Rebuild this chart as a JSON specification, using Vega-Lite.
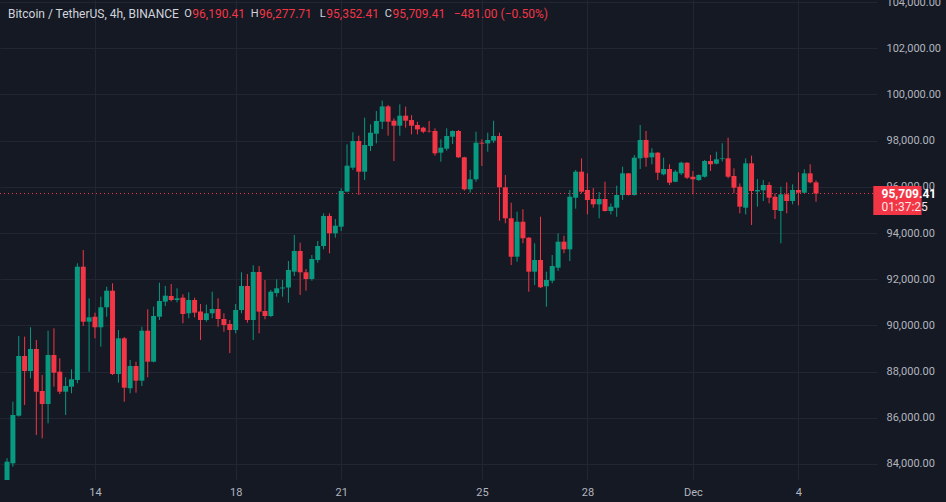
{
"$schema":"https://vega.github.io/schema/vega-lite/v6.json",
"width":877,"height":480,
"autosize":{"type":"none"},
"padding":{"left":0,"top":0,"right":69,"bottom":22},
"background":"#151924",
"config":{"view":{"stroke":null},"font":"Roboto","axis":{"zindex":0,"labelFont":"Roboto","labelFontSize":11,"labelColor":"#b2b5be","gridColor":"#222632","gridWidth":1,"domain":false,"ticks":false,"title":null,"labelFlush":false}},
"data":{"values":[
{"t":"2024-11-11T12:00Z","o":83200,"h":84250,"l":83100,"c":84100},
{"t":"2024-11-11T16:00Z","o":84030,"h":86697,"l":83883,"c":86121},
{"t":"2024-11-11T20:00Z","o":86091,"h":89541,"l":86050,"c":88675},
{"t":"2024-11-12T00:00Z","o":88675,"h":89512,"l":86554,"c":88026},
{"t":"2024-11-12T04:00Z","o":88026,"h":89918,"l":87710,"c":88978},
{"t":"2024-11-12T08:00Z","o":88978,"h":89368,"l":85255,"c":87130},
{"t":"2024-11-12T12:00Z","o":87160,"h":87853,"l":85112,"c":86597},
{"t":"2024-11-12T16:00Z","o":86597,"h":89770,"l":85762,"c":88719},
{"t":"2024-11-12T20:00Z","o":88719,"h":89874,"l":87346,"c":87952},
{"t":"2024-11-13T00:00Z","o":87996,"h":88576,"l":87030,"c":87130},
{"t":"2024-11-13T04:00Z","o":87130,"h":87753,"l":86121,"c":87377},
{"t":"2024-11-13T08:00Z","o":87346,"h":88100,"l":87061,"c":87667},
{"t":"2024-11-13T12:00Z","o":87636,"h":92688,"l":87494,"c":92541},
{"t":"2024-11-13T16:00Z","o":92541,"h":93264,"l":89974,"c":90160},
{"t":"2024-11-13T20:00Z","o":90160,"h":91173,"l":87996,"c":90350},
{"t":"2024-11-14T00:00Z","o":90376,"h":90552,"l":89442,"c":89918},
{"t":"2024-11-14T04:00Z","o":89918,"h":91242,"l":89078,"c":90784},
{"t":"2024-11-14T08:00Z","o":90784,"h":91675,"l":90376,"c":91502},
{"t":"2024-11-14T12:00Z","o":91502,"h":91822,"l":87850,"c":87896},
{"t":"2024-11-14T16:00Z","o":87896,"h":89801,"l":87519,"c":89441},
{"t":"2024-11-14T20:00Z","o":89441,"h":89500,"l":86697,"c":87303},
{"t":"2024-11-15T00:00Z","o":87277,"h":88502,"l":87061,"c":88242},
{"t":"2024-11-15T04:00Z","o":88242,"h":88430,"l":87087,"c":87606},
{"t":"2024-11-15T08:00Z","o":87606,"h":89944,"l":87376,"c":89770},
{"t":"2024-11-15T12:00Z","o":89770,"h":90697,"l":87753,"c":88429},
{"t":"2024-11-15T16:00Z","o":88429,"h":90810,"l":88400,"c":90407},
{"t":"2024-11-15T20:00Z","o":90376,"h":91848,"l":90234,"c":91056},
{"t":"2024-11-16T00:00Z","o":91030,"h":91706,"l":90840,"c":91286},
{"t":"2024-11-16T04:00Z","o":91273,"h":91792,"l":91040,"c":91100},
{"t":"2024-11-16T08:00Z","o":91100,"h":91606,"l":91000,"c":91173},
{"t":"2024-11-16T12:00Z","o":91200,"h":91346,"l":90091,"c":90494},
{"t":"2024-11-16T16:00Z","o":90523,"h":91433,"l":90307,"c":91100},
{"t":"2024-11-16T20:00Z","o":91100,"h":91200,"l":90350,"c":90552},
{"t":"2024-11-17T00:00Z","o":90600,"h":90926,"l":89368,"c":90234},
{"t":"2024-11-17T04:00Z","o":90234,"h":90900,"l":90160,"c":90524},
{"t":"2024-11-17T08:00Z","o":90524,"h":91460,"l":90307,"c":90710},
{"t":"2024-11-17T12:00Z","o":90710,"h":91173,"l":89944,"c":90277},
{"t":"2024-11-17T16:00Z","o":90277,"h":90524,"l":89727,"c":90017},
{"t":"2024-11-17T20:00Z","o":90060,"h":90234,"l":88800,"c":89801},
{"t":"2024-11-18T00:00Z","o":89801,"h":90926,"l":89658,"c":90667},
{"t":"2024-11-18T04:00Z","o":90667,"h":92299,"l":90524,"c":91706},
{"t":"2024-11-18T08:00Z","o":91706,"h":92225,"l":90117,"c":90234},
{"t":"2024-11-18T12:00Z","o":90234,"h":92602,"l":89368,"c":92312},
{"t":"2024-11-18T16:00Z","o":92312,"h":92570,"l":89658,"c":90595},
{"t":"2024-11-18T20:00Z","o":90623,"h":91965,"l":90264,"c":90407},
{"t":"2024-11-19T00:00Z","o":90407,"h":91533,"l":90360,"c":91459},
{"t":"2024-11-19T04:00Z","o":91400,"h":91995,"l":91245,"c":91606},
{"t":"2024-11-19T08:00Z","o":91600,"h":91965,"l":91245,"c":91640},
{"t":"2024-11-19T12:00Z","o":91640,"h":92788,"l":90983,"c":92398},
{"t":"2024-11-19T16:00Z","o":92325,"h":93914,"l":92139,"c":93221},
{"t":"2024-11-19T20:00Z","o":93221,"h":93580,"l":91316,"c":92299},
{"t":"2024-11-20T00:00Z","o":92299,"h":92442,"l":91502,"c":92009},
{"t":"2024-11-20T04:00Z","o":92009,"h":93048,"l":91935,"c":92875},
{"t":"2024-11-20T08:00Z","o":92832,"h":93654,"l":92714,"c":93438},
{"t":"2024-11-20T12:00Z","o":93438,"h":94853,"l":93294,"c":94738},
{"t":"2024-11-20T16:00Z","o":94738,"h":94853,"l":93121,"c":93987},
{"t":"2024-11-20T20:00Z","o":93987,"h":94606,"l":93797,"c":94316},
{"t":"2024-11-21T00:00Z","o":94273,"h":95935,"l":94087,"c":95818},
{"t":"2024-11-21T04:00Z","o":95790,"h":97839,"l":95760,"c":96913},
{"t":"2024-11-21T08:00Z","o":96827,"h":98359,"l":96727,"c":97982},
{"t":"2024-11-21T12:00Z","o":97982,"h":98213,"l":95645,"c":96654},
{"t":"2024-11-21T16:00Z","o":96654,"h":98991,"l":96294,"c":97810},
{"t":"2024-11-21T20:00Z","o":97767,"h":98705,"l":97550,"c":98342},
{"t":"2024-11-22T00:00Z","o":98299,"h":99282,"l":97883,"c":98849},
{"t":"2024-11-22T04:00Z","o":98818,"h":99727,"l":98502,"c":99481},
{"t":"2024-11-22T08:00Z","o":99481,"h":99540,"l":98213,"c":98818},
{"t":"2024-11-22T12:00Z","o":98862,"h":98963,"l":97117,"c":98646},
{"t":"2024-11-22T16:00Z","o":98646,"h":99571,"l":98213,"c":99078},
{"t":"2024-11-22T20:00Z","o":99078,"h":99470,"l":98559,"c":98862},
{"t":"2024-11-23T00:00Z","o":98890,"h":99100,"l":98270,"c":98646},
{"t":"2024-11-23T04:00Z","o":98675,"h":98818,"l":98270,"c":98487},
{"t":"2024-11-23T08:00Z","o":98559,"h":98600,"l":98320,"c":98386},
{"t":"2024-11-23T12:00Z","o":98420,"h":98849,"l":98350,"c":98400},
{"t":"2024-11-23T16:00Z","o":98415,"h":98530,"l":97348,"c":97449},
{"t":"2024-11-23T20:00Z","o":97478,"h":98057,"l":97087,"c":97693},
{"t":"2024-11-24T00:00Z","o":97650,"h":98533,"l":97563,"c":98199},
{"t":"2024-11-24T04:00Z","o":98170,"h":98440,"l":97853,"c":98416},
{"t":"2024-11-24T08:00Z","o":98416,"h":98460,"l":97250,"c":97277},
{"t":"2024-11-24T12:00Z","o":97277,"h":97300,"l":95831,"c":95892},
{"t":"2024-11-24T16:00Z","o":95892,"h":96727,"l":95745,"c":96325},
{"t":"2024-11-24T20:00Z","o":96325,"h":98386,"l":96221,"c":97909},
{"t":"2024-11-25T00:00Z","o":97909,"h":98057,"l":96900,"c":97870},
{"t":"2024-11-25T04:00Z","o":97880,"h":98342,"l":97521,"c":98026},
{"t":"2024-11-25T08:00Z","o":98000,"h":98862,"l":97900,"c":98199},
{"t":"2024-11-25T12:00Z","o":98199,"h":98342,"l":94532,"c":95978},
{"t":"2024-11-25T16:00Z","o":95978,"h":96511,"l":94420,"c":94636},
{"t":"2024-11-25T20:00Z","o":94636,"h":95312,"l":92615,"c":92974},
{"t":"2024-11-26T00:00Z","o":92974,"h":94922,"l":92757,"c":94489},
{"t":"2024-11-26T04:00Z","o":94489,"h":95026,"l":93554,"c":93771},
{"t":"2024-11-26T08:00Z","o":93797,"h":93820,"l":91459,"c":92325},
{"t":"2024-11-26T12:00Z","o":92325,"h":93554,"l":91749,"c":92831},
{"t":"2024-11-26T16:00Z","o":92831,"h":94706,"l":91620,"c":91650},
{"t":"2024-11-26T20:00Z","o":91693,"h":92325,"l":90810,"c":91965},
{"t":"2024-11-27T00:00Z","o":91935,"h":93048,"l":91822,"c":92571},
{"t":"2024-11-27T04:00Z","o":92498,"h":93987,"l":92355,"c":93624},
{"t":"2024-11-27T08:00Z","o":93624,"h":93884,"l":93121,"c":93294},
{"t":"2024-11-27T12:00Z","o":93294,"h":95861,"l":92788,"c":95571},
{"t":"2024-11-27T16:00Z","o":95528,"h":96727,"l":95052,"c":96654},
{"t":"2024-11-27T20:00Z","o":96654,"h":97233,"l":95718,"c":95788},
{"t":"2024-11-28T00:00Z","o":95861,"h":96583,"l":94807,"c":95429},
{"t":"2024-11-28T04:00Z","o":95472,"h":95948,"l":95096,"c":95241},
{"t":"2024-11-28T08:00Z","o":95241,"h":95775,"l":94636,"c":95472},
{"t":"2024-11-28T12:00Z","o":95472,"h":96221,"l":94930,"c":94953},
{"t":"2024-11-28T16:00Z","o":94953,"h":95285,"l":94807,"c":95140},
{"t":"2024-11-28T20:00Z","o":95096,"h":96048,"l":94706,"c":95645},
{"t":"2024-11-29T00:00Z","o":95645,"h":96870,"l":95429,"c":96583},
{"t":"2024-11-29T04:00Z","o":96583,"h":96600,"l":95620,"c":95645},
{"t":"2024-11-29T08:00Z","o":95645,"h":97377,"l":95620,"c":97260},
{"t":"2024-11-29T12:00Z","o":97233,"h":98675,"l":96770,"c":98026},
{"t":"2024-11-29T16:00Z","o":98026,"h":98416,"l":96870,"c":97260},
{"t":"2024-11-29T20:00Z","o":97277,"h":97667,"l":96974,"c":97478},
{"t":"2024-11-30T00:00Z","o":97478,"h":97500,"l":96294,"c":96611},
{"t":"2024-11-30T04:00Z","o":96540,"h":97260,"l":96500,"c":96770},
{"t":"2024-11-30T08:00Z","o":96770,"h":96974,"l":96078,"c":96178},
{"t":"2024-11-30T12:00Z","o":96221,"h":96727,"l":96200,"c":96654},
{"t":"2024-11-30T16:00Z","o":96583,"h":97087,"l":96510,"c":97043},
{"t":"2024-11-30T20:00Z","o":97043,"h":97060,"l":96337,"c":96394},
{"t":"2024-12-01T00:00Z","o":96437,"h":96684,"l":95675,"c":96325},
{"t":"2024-12-01T04:00Z","o":96294,"h":96540,"l":96250,"c":96511},
{"t":"2024-12-01T08:00Z","o":96437,"h":97160,"l":96400,"c":97117},
{"t":"2024-12-01T12:00Z","o":97117,"h":97377,"l":96684,"c":96974},
{"t":"2024-12-01T16:00Z","o":97000,"h":97520,"l":96974,"c":97190},
{"t":"2024-12-01T20:00Z","o":97200,"h":97883,"l":97100,"c":97230},
{"t":"2024-12-02T00:00Z","o":97233,"h":98126,"l":96367,"c":96438},
{"t":"2024-12-02T04:00Z","o":96467,"h":96800,"l":95718,"c":95961},
{"t":"2024-12-02T08:00Z","o":96004,"h":96150,"l":94853,"c":95140},
{"t":"2024-12-02T12:00Z","o":95096,"h":97233,"l":94807,"c":97017},
{"t":"2024-12-02T16:00Z","o":97017,"h":97350,"l":94347,"c":95818},
{"t":"2024-12-02T20:00Z","o":95800,"h":96338,"l":95140,"c":95860},
{"t":"2024-12-03T00:00Z","o":95850,"h":96294,"l":95385,"c":96078},
{"t":"2024-12-03T04:00Z","o":96078,"h":96200,"l":95285,"c":95528},
{"t":"2024-12-03T08:00Z","o":95571,"h":95718,"l":94606,"c":94996},
{"t":"2024-12-03T12:00Z","o":94953,"h":96004,"l":93554,"c":95675},
{"t":"2024-12-03T16:00Z","o":95675,"h":96194,"l":94853,"c":95385},
{"t":"2024-12-03T20:00Z","o":95385,"h":96108,"l":95241,"c":95861},
{"t":"2024-12-04T00:00Z","o":95861,"h":96627,"l":95197,"c":95745},
{"t":"2024-12-04T04:00Z","o":95745,"h":96757,"l":95720,"c":96583},
{"t":"2024-12-04T08:00Z","o":96583,"h":96974,"l":96150,"c":96194},
{"t":"2024-12-04T12:00Z","o":96190.41,"h":96277.71,"l":95352.41,"c":95709.41}
]},
"layer":[
{"mark":{"type":"rule","clip":true,"strokeWidth":1},
 "encoding":{
  "x":{"field":"t","type":"temporal","scale":{"type":"utc","domain":[{"year":2024,"month":11,"date":11,"hours":10,"minutes":37,"utc":true},{"year":2024,"month":12,"date":6,"hours":2,"minutes":11,"utc":true}]},
   "axis":{"orient":"bottom","grid":true,"labelPadding":6,"labelFontSize":11,
    "values":[{"year":2024,"month":11,"date":14,"utc":true},{"year":2024,"month":11,"date":18,"utc":true},{"year":2024,"month":11,"date":21,"utc":true},{"year":2024,"month":11,"date":25,"utc":true},{"year":2024,"month":11,"date":28,"utc":true},{"year":2024,"month":12,"date":1,"utc":true},{"year":2024,"month":12,"date":4,"utc":true}],
    "labelExpr":"utcdate(datum.value) == 1 ? utcFormat(datum.value, '%b') : utcFormat(datum.value, '%-d')"}},
  "y":{"field":"l","type":"quantitative","scale":{"domain":[83307,104087],"nice":false,"zero":false},
   "axis":{"orient":"right","grid":true,"format":",.2f","labelAlign":"left","labelPadding":9,"values":[84000,86000,88000,90000,92000,94000,96000,98000,100000,102000,104000]}},
  "y2":{"field":"h"},
  "color":{"condition":{"test":"datum.c >= datum.o","value":"#089981"},"value":"#f23645"}}},
{"mark":{"type":"bar","clip":true,"size":5},
 "encoding":{
  "x":{"field":"t","type":"temporal"},
  "y":{"field":"o","type":"quantitative"},
  "y2":{"field":"c"},
  "color":{"condition":{"test":"datum.c >= datum.o","value":"#089981"},"value":"#f23645"}}},
{"data":{"values":[{}]},"mark":{"type":"rule","strokeDash":[1,3],"color":"#f23645","strokeWidth":1},
 "encoding":{"y":{"datum":95709.41}}},
{"data":{"values":[{}]},"mark":{"type":"rect","color":"#f23645","clip":false},
 "encoding":{"x":{"datum":{"year":2024,"month":12,"date":6,"hours":3,"minutes":4,"utc":true},"type":"temporal"},"x2":{"datum":{"year":2024,"month":12,"date":7,"hours":12,"utc":true}},"y":{"datum":96035},"y2":{"datum":94780}}},
{"data":{"values":[{}]},"mark":{"type":"text","align":"left","baseline":"middle","font":"Roboto","fontSize":12,"fontWeight":"bold","color":"#ffffff","clip":false},
 "encoding":{"x":{"datum":{"year":2024,"month":12,"date":6,"hours":8,"minutes":43,"utc":true},"type":"temporal"},"y":{"datum":95688},"text":{"value":"95,709.41"}}},
{"data":{"values":[{}]},"mark":{"type":"text","align":"left","baseline":"middle","font":"Roboto","fontSize":12,"color":"#fde4e6","clip":false},
 "encoding":{"x":{"datum":{"year":2024,"month":12,"date":6,"hours":8,"minutes":43,"utc":true},"type":"temporal"},"y":{"datum":95139},"text":{"value":"01:37:25"}}},
{"data":{"values":[{}]},"mark":{"type":"text","align":"left","baseline":"middle","font":"Roboto","fontSize":12,"color":"#d1d4dc"},
 "encoding":{"x":{"datum":{"year":2024,"month":11,"date":11,"hours":12,"minutes":38,"utc":true},"type":"temporal"},"y":{"datum":103480},"text":{"value":"Bitcoin / TetherUS, 4h, BINANCE"}}},
{"data":{"values":[{}]},"mark":{"type":"text","align":"right","baseline":"middle","font":"Roboto","fontSize":11,"color":"#d1d4dc"},
 "encoding":{"x":{"datum":{"year":2024,"month":11,"date":16,"hours":18,"minutes":6,"utc":true},"type":"temporal"},"y":{"datum":103480},"text":{"value":"O"}}},
{"data":{"values":[{}]},"mark":{"type":"text","align":"left","baseline":"middle","font":"Roboto","fontSize":12,"color":"#f23645"},
 "encoding":{"x":{"datum":{"year":2024,"month":11,"date":16,"hours":18,"minutes":26,"utc":true},"type":"temporal"},"y":{"datum":103480},"text":{"value":"96,190.41"}}},
{"data":{"values":[{}]},"mark":{"type":"text","align":"right","baseline":"middle","font":"Roboto","fontSize":11,"color":"#d1d4dc"},
 "encoding":{"x":{"datum":{"year":2024,"month":11,"date":18,"hours":15,"minutes":38,"utc":true},"type":"temporal"},"y":{"datum":103480},"text":{"value":"H"}}},
{"data":{"values":[{}]},"mark":{"type":"text","align":"left","baseline":"middle","font":"Roboto","fontSize":12,"color":"#f23645"},
 "encoding":{"x":{"datum":{"year":2024,"month":11,"date":18,"hours":15,"minutes":58,"utc":true},"type":"temporal"},"y":{"datum":103480},"text":{"value":"96,277.71"}}},
{"data":{"values":[{}]},"mark":{"type":"text","align":"right","baseline":"middle","font":"Roboto","fontSize":11,"color":"#d1d4dc"},
 "encoding":{"x":{"datum":{"year":2024,"month":11,"date":20,"hours":13,"minutes":30,"utc":true},"type":"temporal"},"y":{"datum":103480},"text":{"value":"L"}}},
{"data":{"values":[{}]},"mark":{"type":"text","align":"left","baseline":"middle","font":"Roboto","fontSize":12,"color":"#f23645"},
 "encoding":{"x":{"datum":{"year":2024,"month":11,"date":20,"hours":13,"minutes":50,"utc":true},"type":"temporal"},"y":{"datum":103480},"text":{"value":"95,352.41"}}},
{"data":{"values":[{}]},"mark":{"type":"text","align":"right","baseline":"middle","font":"Roboto","fontSize":11,"color":"#d1d4dc"},
 "encoding":{"x":{"datum":{"year":2024,"month":11,"date":22,"hours":10,"minutes":42,"utc":true},"type":"temporal"},"y":{"datum":103480},"text":{"value":"C"}}},
{"data":{"values":[{}]},"mark":{"type":"text","align":"left","baseline":"middle","font":"Roboto","fontSize":12,"color":"#f23645"},
 "encoding":{"x":{"datum":{"year":2024,"month":11,"date":22,"hours":11,"minutes":2,"utc":true},"type":"temporal"},"y":{"datum":103480},"text":{"value":"95,709.41"}}},
{"data":{"values":[{}]},"mark":{"type":"text","align":"left","baseline":"middle","font":"Roboto","fontSize":12,"color":"#f23645"},
 "encoding":{"x":{"datum":{"year":2024,"month":11,"date":24,"hours":4,"minutes":52,"utc":true},"type":"temporal"},"y":{"datum":103480},"text":{"value":"−481.00 (−0.50%)"}}}
]
}
